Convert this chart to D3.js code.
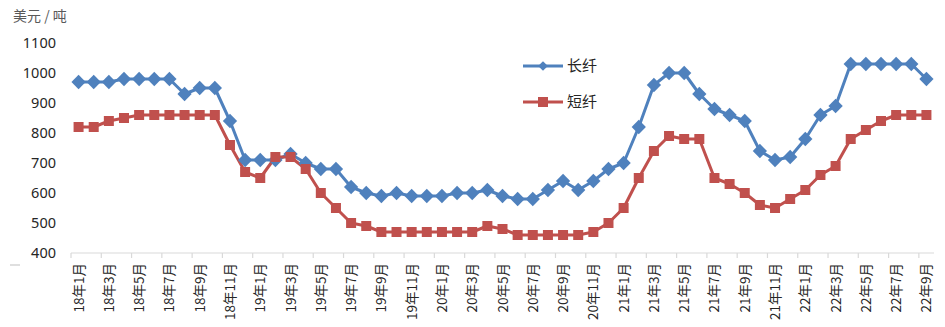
<!DOCTYPE html>
<html><head><meta charset="utf-8">
<script src="https://cdn.jsdelivr.net/npm/d3@7"></script>
<style>body{margin:0;background:#fff;} svg{display:block;}</style>
</head><body>
<svg id="c" width="945" height="327"></svg>
<script>
const months = [];
const years = ["18","19","20","21","22"];
for (const y of years) for (let m = 1; m <= 12; m++) { if (y === "22" && m > 9) break; months.push(y + "年" + m + "月"); }
const longFiber = [970,970,970,980,980,980,980,930,950,950,840,710,
  710,710,730,700,680,680,620,600,590,600,590,590,
  590,600,600,610,590,580,580,610,640,610,640,680,
  700,820,960,1000,1000,930,880,860,840,740,710,720,
  780,860,890,1030,1030,1030,1030,1030,980];
const shortFiber = [820,820,840,850,860,860,860,860,860,860,760,670,
  650,720,720,680,600,550,500,490,470,470,470,470,
  470,470,470,490,480,460,460,460,460,460,470,500,
  550,650,740,790,780,780,650,630,600,560,550,580,
  610,660,690,780,810,840,860,860,860];
const yTicks = [400,500,600,700,800,900,1000,1100];
const seriesNames = ["长纤","短纤"];
const colors = ["#4f81bd","#c0504d"];

const svg = d3.select("#c");
const x = d3.scaleBand().domain(months).range([71, 934]);
const y = d3.scaleLinear().domain([400,1100]).range([253, 43]);
const cx = d => x(d) + x.bandwidth()/2;

// Title
svg.append("text").attr("x",13).attr("y",21).text("美元 / 吨")
  .attr("font-family","Noto Sans CJK SC").attr("font-size",14).attr("fill","#595959");

// Y labels
svg.append("g").selectAll("text").data(yTicks).join("text")
  .attr("x",56).attr("y",d=>y(d)).attr("dy","0.35em").attr("text-anchor","end")
  .attr("font-family","Noto Sans").attr("font-size",14.5).attr("fill","#262626").text(d=>d);
svg.append("line").attr("x1",10).attr("x2",20).attr("y1",265).attr("y2",265).attr("stroke","#bfbfbf");

// X axis
svg.append("line").attr("x1",71).attr("x2",934).attr("y1",253).attr("y2",253).attr("stroke","#d9d9d9").attr("stroke-width",1.2);
const tickIdx = d3.range(0, months.length, 2);
svg.append("g").selectAll("line").data(tickIdx).join("line")
  .attr("x1",i=>x(months[i])).attr("x2",i=>x(months[i])).attr("y1",253).attr("y2",258)
  .attr("stroke","#d9d9d9").attr("stroke-width",1.2);
svg.append("g").selectAll("text").data(tickIdx.map(i=>months[i])).join("text")
  .attr("transform",d=>`translate(${cx(d)+5},263) rotate(-90)`)
  .attr("text-anchor","end")
  .attr("font-family","Noto Sans CJK SC").attr("font-size",13.5).attr("fill","#262626").text(d=>d);

// Lines
const data = [longFiber, shortFiber];
const line = d3.line().x((d,i)=>cx(months[i])).y(d=>y(d));
data.forEach((s,k)=>{
  svg.append("path").datum(s).attr("d",line).attr("fill","none")
    .attr("stroke",colors[k]).attr("stroke-width",3).attr("stroke-linejoin","round");
});
const diamond = d3.symbol().type(d3.symbolDiamond2).size(130);
svg.append("g").selectAll("path").data(longFiber).join("path")
  .attr("transform",(d,i)=>`translate(${cx(months[i])},${y(d)})`).attr("d",diamond()).attr("fill",colors[0]);
svg.append("g").selectAll("rect").data(shortFiber).join("rect")
  .attr("x",(d,i)=>cx(months[i])-5).attr("y",d=>y(d)-5).attr("width",10).attr("height",10).attr("fill",colors[1]);

// Legend
const legY = [66,102];
seriesNames.forEach((n,k)=>{
  svg.append("line").attr("x1",523).attr("x2",563).attr("y1",legY[k]).attr("y2",legY[k]).attr("stroke",colors[k]).attr("stroke-width",3);
  if (k===0) svg.append("path").attr("transform",`translate(543,${legY[k]})`).attr("d",d3.symbol().type(d3.symbolDiamond2).size(60)()).attr("fill",colors[0]);
  else svg.append("rect").attr("x",538).attr("y",legY[k]-5).attr("width",10).attr("height",10).attr("fill",colors[1]);
  svg.append("text").attr("x",567).attr("y",legY[k]).attr("dy","0.36em").attr("font-family","Noto Sans CJK SC").attr("font-size",15).attr("fill","#262626").text(n);
});
</script>
</body></html>
